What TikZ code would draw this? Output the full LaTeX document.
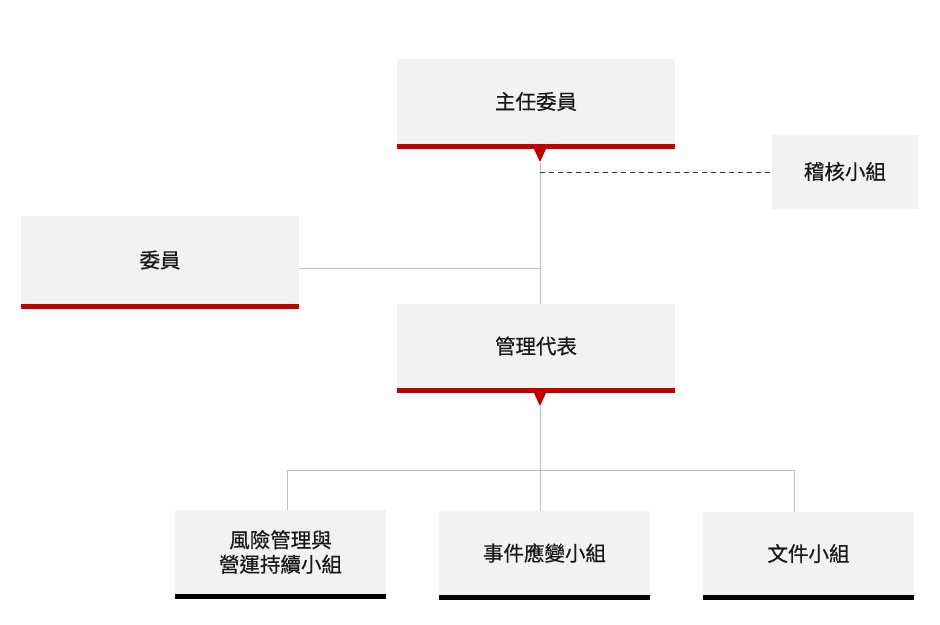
\documentclass[tikz,border=0pt]{standalone}
\usepackage{fontspec}
\setmainfont{Noto Sans CJK TC}[FakeBold=0.6]
\definecolor{boxgray}{HTML}{F2F2F2}
\definecolor{barred}{HTML}{C00000}
\definecolor{linegray}{HTML}{BFBFBF}
\definecolor{dashgray}{HTML}{333333}
\begin{document}
\begin{tikzpicture}[x=1pt,y=-1pt,
  orgbox/.style={fill=boxgray,draw=none,inner sep=0pt,align=center,
    font=\fontsize{20.5}{24.5}\selectfont,text=black!90},
  link/.style={draw=linegray,line width=1pt},
  dashlink/.style={draw=dashgray,line width=1.3pt,dash pattern=on 5pt off 4pt}]
\useasboundingbox (0,0) rectangle (940,624);
% boxes
\node[orgbox,minimum width=278pt,minimum height=85pt] (zr) at (536,101.5) {主任委員};
\node[orgbox,minimum width=146pt,minimum height=74pt] (jh) at (845,171.5) {稽核小組};
\node[orgbox,minimum width=278pt,minimum height=88pt] (wy) at (160,260) {委員};
\node[orgbox,minimum width=278pt,minimum height=84pt] (gl) at (536,346) {管理代表};
\node[orgbox,minimum width=211pt,minimum height=84pt] (fx) at (280.5,552) {風險管理與\\營運持續小組};
\node[orgbox,minimum width=211pt,minimum height=84pt] (sj) at (544.5,553) {事件應變小組};
\node[orgbox,minimum width=211pt,minimum height=83pt] (wj) at (808.5,553.5) {文件小組};
% bars
\fill[barred] (zr.south west) rectangle ([yshift=-5pt]zr.south east);
\fill[barred] (wy.south west) rectangle ([yshift=-5pt]wy.south east);
\fill[barred] (gl.south west) rectangle ([yshift=-5pt]gl.south east);
\fill[black] (fx.south west) rectangle ([yshift=-4.5pt]fx.south east);
\fill[black] (sj.south west) rectangle ([yshift=-4.5pt]sj.south east);
\fill[black] (wj.south west) rectangle ([yshift=-4.5pt]wj.south east);
% pointers
\coordinate (zrt) at (540,162);
\coordinate (glt) at (540,406);
\fill[barred] (533.5,148) -- (546.5,148) -- (zrt) -- cycle;
\fill[barred] (533.5,392) -- (546.5,392) -- (glt) -- cycle;
% connectors
\coordinate (dj) at (540,172.5);
\coordinate (wj1) at (540,268);
\draw[link] (zrt) -- (gl.north -| zrt);
\draw[dashlink] (dj) -- (dj -| jh.west);
\draw[link] (wy.east |- wj1) -- (wj1);
\draw[link] (glt) -- (sj.north -| glt);
\draw[link] (fx.north -| 287,0) -- (287,470.5) -- (794,470.5) -- (wj.north -| 794,0);
\end{tikzpicture}
\end{document}
